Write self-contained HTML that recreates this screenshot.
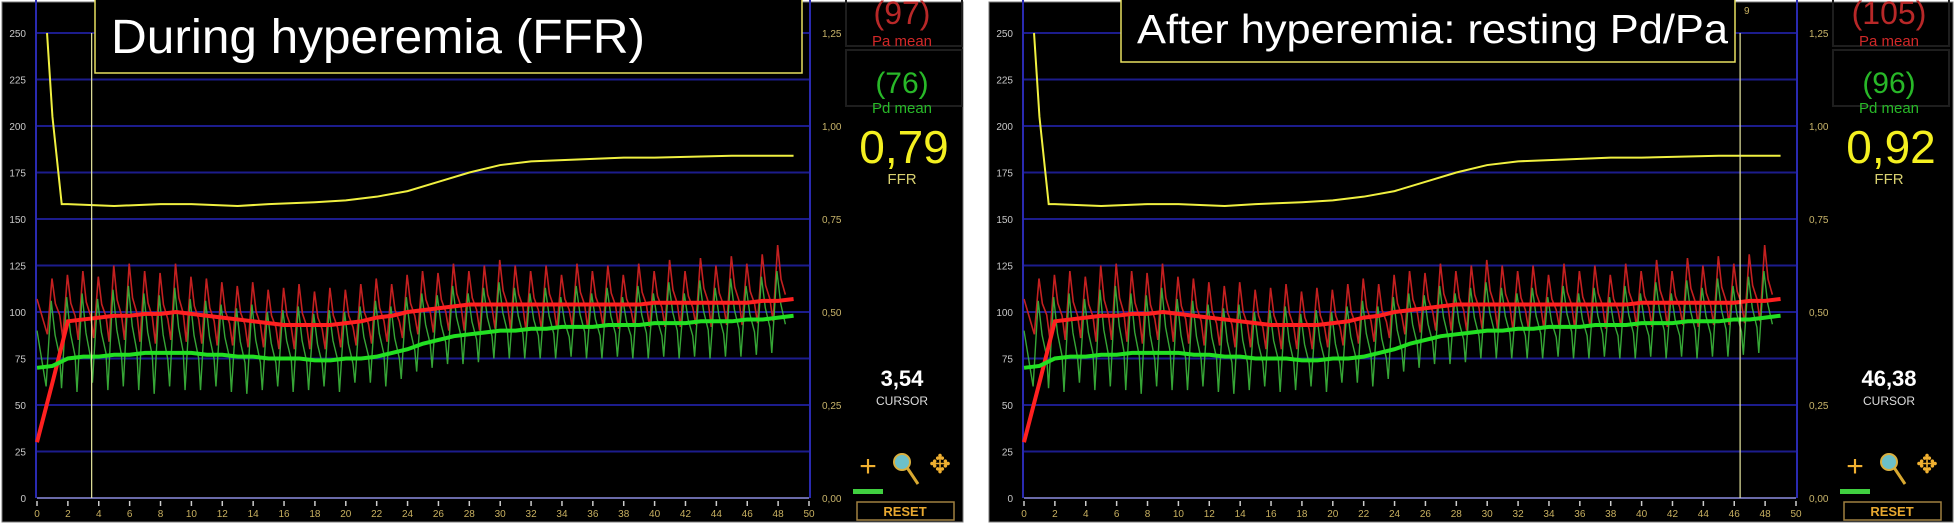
<!DOCTYPE html>
<html><head><meta charset="utf-8"><style>
html,body{margin:0;padding:0;background:#fff;width:1955px;height:525px;overflow:hidden}
svg{display:block;font-family:"Liberation Sans",sans-serif}
</style></head><body>
<svg id="chart" width="1955" height="525" viewBox="0 0 1955 525"></svg>
<script>
// ---- data ----
const yTicks = [0,25,50,75,100,125,150,175,200,225,250];
const yTickLabels = ["0","25","50","75","100","125","150","175","200","225","250"];
const xTicks = [0,2,4,6,8,10,12,14,16,18,20,22,24,26,28,30,32,34,36,38,40,42,44,46,48,50];
const ratioTicks = ["0,00","0,25","0,50","0,75","1,00","1,25"];
const beatPeakTimes = [0.97,1.97,2.97,3.97,4.97,5.97,6.97,7.97,8.97,9.97,10.97,11.97,12.97,13.97,14.97,15.97,16.97,17.97,18.97,19.97,20.97,21.97,22.97,23.97,24.97,25.97,26.97,27.97,28.97,29.97,30.97,31.97,32.97,33.97,34.97,35.97,36.97,37.97,38.97,39.97,40.97,41.97,42.97,43.97,44.97,45.97,46.97,47.97];
const paPeak = [118,120,122,119,125,126,122,121,126,119,118,116,114,116,112,113,115,111,113,112,115,118,115,120,122,121,126,122,125,128,125,122,125,120,126,122,125,120,126,122,128,122,129,125,130,126,131,136];
const paTrough = [88,86,85,86,84,85,84,83,85,84,83,82,82,81,81,80,80,80,80,81,82,83,84,86,88,89,90,90,90,91,91,90,91,91,92,91,92,91,92,92,92,92,93,92,93,93,94,95];
const pdPeak = [106,108,110,107,112,114,110,109,113,107,106,104,102,104,100,101,103,99,101,100,103,106,103,108,110,109,114,110,113,116,113,110,113,108,114,110,113,108,114,110,116,110,117,113,118,114,119,122];
const pdTrough = [60,59,57,62,58,60,58,56,60,58,58,60,57,56,58,60,57,58,60,57,62,62,60,64,68,70,72,72,73,75,75,75,75,75,76,75,75,76,75,75,76,75,76,75,76,76,77,78];
const meanTimes = [0,1,2,3,4,5,6,7,8,9,10,11,12,13,14,15,16,17,18,19,20,21,22,23,24,25,26,27,28,29,30,31,32,33,34,35,36,37,38,39,40,41,42,43,44,45,46,47,48,49];
const paMean = [30,62,95,96,97,98,98,99,99,100,99,98,97,96,95,94,93,93,93,93,94,95,97,98,100,101,102,103,104,104,104,104,104,104,104,104,104,104,104,104,105,105,105,105,105,105,105,106,106,107];
const pdMean = [70,71,75,76,76,77,77,78,78,78,78,77,77,76,76,75,75,75,74,74,75,75,76,78,80,83,85,87,88,89,90,90,91,91,92,92,92,93,93,93,94,94,94,95,95,95,96,96,97,98];
const ffrTimes = [0.65,1.0,1.6,2,5,8,10,13,15,18,20,22,24,26,28,30,32,35,38,40,45,49];
const ffrValues = [250,205,158,158,157,158,158,157,158,159,160,162,165,170,175,179,181,182,183,183,184,184];
const panelTitles = ["During hyperemia  (FFR)","After hyperemia: resting Pd/Pa"];
const paMeanLabels = ["(97)","(105)"];
const pdMeanLabels = ["(76)","(96)"];
const ffrLabels = ["0,79","0,92"];
const cursorTimes = [3.54,46.38];
const cursorLabels = ["3,54","46,38"];

const NS="http://www.w3.org/2000/svg";
const svg=document.getElementById('chart');
function mk(tag,attrs,parent,text){const e=document.createElementNS(NS,tag);for(const k in attrs)e.setAttribute(k,attrs[k]);if(text!==undefined)e.textContent=text;(parent||svg).appendChild(e);return e;}
const Y=v=>498-v*1.86;

function panel(p){
  const off = p*987;
  const X=t=>37+off+t*15.44;
  const g=mk('g',{});
  
  
  const pr=mk('rect',{x:2+off,y:2,width:961+(p?3:0),height:520,fill:'#000',stroke:'#777','stroke-width':1},g);
  
  
  // info frames
  const f1=mk('rect',{x:846+off,y:-2,width:116,height:48,fill:'none',stroke:'#1e1e1e','stroke-width':2},g);
  
  
  const f2=mk('rect',{x:846+off,y:50,width:116,height:56,fill:'none',stroke:'#1e1e1e','stroke-width':2},g);
  
  
  // grid
  yTicks.forEach((v,i)=>{
    if(v>0){
      const l=mk('line',{x1:X(0),x2:X(50),y1:Y(v),y2:Y(v),stroke:'#1c1c8c','stroke-width':2},g);
      
      
    }
    const t=mk('text',{x:26+off,y:Y(v)+4,'text-anchor':'end','font-size':10,fill:'#c8c8c8'},g,yTickLabels[i]);
    
    
  });
  ratioTicks.forEach((s,i)=>{
    const t=mk('text',{x:822+off,y:Y(i*50)+4,'font-size':10,fill:'#c8b46a'},g,s);
    
    
  });
  const la=mk('line',{x1:X(0)-1,x2:X(0)-1,y1:0,y2:Y(0),stroke:'#2a2ab0','stroke-width':2},g);
  
  
  const ra=mk('line',{x1:X(50)+1,x2:X(50)+1,y1:0,y2:Y(0),stroke:'#2a2ab0','stroke-width':2},g);
  
  
  const xa=mk('line',{x1:X(0),x2:X(50),y1:Y(0),y2:Y(0),stroke:'#6a6aa8','stroke-width':2},g);
  
  
  xTicks.forEach(v=>{
    const tk=mk('line',{x1:X(v),x2:X(v),y1:501,y2:506,stroke:'#ccc','stroke-width':1.5},g);
    
    
    const t=mk('text',{x:X(v),y:517,'text-anchor':'middle','font-size':10,fill:'#c8b060'},g,String(v));
    
    
  });
  // pulsatile Pa
  let pa=[[X(0),Y(107)]], pd=[[X(0),Y(90)]];
  beatPeakTimes.forEach((tp,i)=>{
    pa.push([X(tp-0.3),Y(paTrough[i])]);pa.push([X(tp),Y(paPeak[i])]);
    pa.push([X(tp+0.22),Y(paTrough[i]+(paPeak[i]-paTrough[i])*0.55)]);pa.push([X(tp+0.5),Y(paTrough[i]+(paPeak[i]-paTrough[i])*0.35)]);
    pd.push([X(tp-0.38),Y(pdTrough[i])]);pd.push([X(tp-0.05),Y(pdPeak[i])]);
    pd.push([X(tp+0.2),Y(pdTrough[i]+(pdPeak[i]-pdTrough[i])*0.6)]);pd.push([X(tp+0.5),Y(pdTrough[i]+(pdPeak[i]-pdTrough[i])*0.35)]);
  });
  const pl=mk('polyline',{points:pa.map(q=>q.join(',')).join(' '),fill:'none',stroke:'#c42020','stroke-width':1.6},g);
  
  
  const dl=mk('polyline',{points:pd.map(q=>q.join(',')).join(' '),fill:'none',stroke:'#3cb83c','stroke-width':1.4,opacity:0.9},g);
  
  
  const pm=mk('polyline',{points:meanTimes.map((t,i)=>X(t)+','+Y(paMean[i])).join(' '),fill:'none',stroke:'#ff2020','stroke-width':4},g);
  
  
  const dm=mk('polyline',{points:meanTimes.map((t,i)=>X(t)+','+Y(pdMean[i])).join(' '),fill:'none',stroke:'#22e022','stroke-width':4},g);
  
  
  const fl=mk('polyline',{points:ffrTimes.map((t,i)=>X(t)+','+Y(ffrValues[i])).join(' '),fill:'none',stroke:'#f0f040','stroke-width':2},g);
  
  
  // cursor
  const cx=X(cursorTimes[p]);
  const cl=mk('line',{x1:cx,x2:cx,y1:33,y2:Y(0),stroke:'#e8e8a0','stroke-width':1.2},g);
  
  
  // title box
  const bx=p?1121:95, bw=p?614:707, bh=p?62:73;
  const tb=mk('rect',{x:bx,y:-2,width:bw,height:bh+2,fill:'#000',stroke:'#e8e060','stroke-width':1.5},g);
  
  
  const tt=mk('text',{x:p?1137:111,y:p?43:53,'font-size':p?41:48,fill:'#fff',textLength:p?591:534,lengthAdjust:'spacingAndGlyphs'},g,panelTitles[p]);
  
  
  if(p){const n=mk('text',{x:1744,y:14,'font-size':10,fill:'#c8b060'},g,'9');
    
    }
  // info
  const ic=902+off;
  const a=mk('text',{x:ic,y:24,'text-anchor':'middle','font-size':32,fill:'#b82828'},g,paMeanLabels[p]);
  
  
  const a2=mk('text',{x:ic,y:46,'text-anchor':'middle','font-size':15,fill:'#d02828'},g,'Pa mean');
  
  
  const b=mk('text',{x:ic,y:93,'text-anchor':'middle','font-size':30,fill:'#28b828'},g,pdMeanLabels[p]);
  
  
  const b2=mk('text',{x:ic,y:113,'text-anchor':'middle','font-size':15,fill:'#28b828'},g,'Pd mean');
  
  
  const c=mk('text',{x:ic+2,y:163,'text-anchor':'middle','font-size':46,fill:'#f4f020'},g,ffrLabels[p]);
  
  
  const c2=mk('text',{x:ic,y:184,'text-anchor':'middle','font-size':15,fill:'#d8d070'},g,'FFR');
  
  
  const d=mk('text',{x:ic,y:386,'text-anchor':'middle','font-size':22,'font-weight':'bold',fill:'#fff'},g,cursorLabels[p]);
  
  
  const d2=mk('text',{x:ic,y:405,'text-anchor':'middle','font-size':12,fill:'#ddd'},g,'CURSOR');
  
  
  // icons
  const plus=mk('text',{x:868+off,y:476,'text-anchor':'middle','font-size':30,fill:'#f0b030'},g,'+');
  
  
  const mg=mk('g',{},g);
  
  
  mk('line',{x1:906+off,y1:466,x2:918+off,y2:484,stroke:'#d8a830','stroke-width':3},mg);
  mk('circle',{cx:902+off,cy:462,r:8,fill:'#6cc0c8',stroke:'#d8b040','stroke-width':2},mg);
  const mv=mk('text',{x:940+off,y:473,'text-anchor':'middle','font-size':26,fill:'#f0b030'},g,'✥');
  
  
  const gb=mk('rect',{x:853+off,y:489,width:30,height:5,fill:'#40d040'},g);
  
  
  const rb=mk('rect',{x:857+off,y:502,width:97,height:18,fill:'#000',stroke:'#a08040','stroke-width':1.5},g);
  
  
  const rt=mk('text',{x:905+off,y:516,'text-anchor':'middle','font-size':13,'font-weight':'bold',fill:'#e8a830'},g,'RESET');
  
  
}
panel(0);panel(1);
</script>
</body></html>
